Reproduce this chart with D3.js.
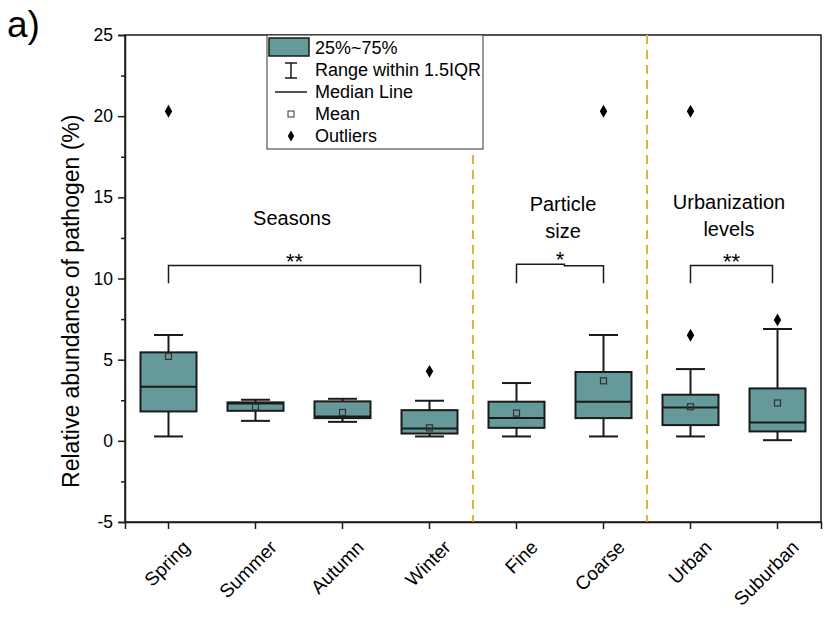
<!DOCTYPE html>
<html>
<head>
<meta charset="utf-8">
<script src="https://d3js.org/d3.v7.min.js"></script>
<style>
  body { margin: 0; background: #fff; }
  text { font-family: Arial, "Liberation Sans", sans-serif; fill: #000; }
</style>
</head>
<body>
<div id="chart"></div>
<script>
// categories and box statistics (percent)
var categories = ["Spring", "Summer", "Autumn", "Winter", "Fine", "Coarse", "Urban", "Suburban"];
var whiskerLow = [0.27, 1.23, 1.17, 0.27, 0.27, 0.27, 0.27, 0.04];
var q1         = [1.81, 1.85, 1.40, 0.45, 0.80, 1.40, 0.97, 0.58];
var medians    = [3.33, 2.30, 1.50, 0.76, 1.40, 2.41, 2.06, 1.13];
var q3         = [5.45, 2.37, 2.43, 1.89, 2.41, 4.24, 2.84, 3.23];
var whiskerHigh= [6.52, 2.53, 2.59, 2.47, 3.56, 6.52, 4.42, 6.89];
var means      = [5.20, 2.08, 1.75, 0.80, 1.71, 3.70, 2.10, 2.33];
var outliers   = [[20.3], [], [], [4.28], [], [20.3], [6.50, 20.3], [7.45]];

var yTicks = [-5, 0, 5, 10, 15, 20, 25];
var yMinorTicks = [-2.5, 2.5, 7.5, 12.5, 17.5, 22.5];

// group separators (between category indices) and brackets
var separators = [[3, 4], [5, 6]];
var brackets = [
  { from: "Spring", to: "Winter", y: 10.8, y2: 10.8, legY: 9.7, label: "**", toShift: -9 },
  { from: "Fine", to: "Coarse", y: 10.88, y2: 10.78, legY: 9.7, label: "*", toShift: 0 },
  { from: "Urban", to: "Suburban", y: 10.8, y2: 10.8, legY: 9.7, label: "**", toShift: -5 }
];
var groupLabels = [
  { between: ["Spring", "Winter"], lines: ["Seasons"], y: 13.3, shift: -7 },
  { between: ["Fine", "Coarse"], lines: ["Particle", "size"], y: 14.15, shift: 3 },
  { between: ["Urban", "Suburban"], lines: ["Urbanization", "levels"], y: 14.3, shift: -5 }
];
var legendItems = ["25%~75%", "Range within 1.5IQR", "Median Line", "Mean", "Outliers"];

var W = 824, H = 617;
var margin = { left: 125, right: 3, top: 35, bottom: 95 };
var teal = "#669999", ink = "#1a1a1a", orange = "#E8AE3A";

var svg = d3.select("#chart").append("svg").attr("width", W).attr("height", H);

var x = d3.scaleBand().domain(categories).range([margin.left, W - margin.right]);
var y = d3.scaleLinear().domain([-5, 25]).range([H - margin.bottom, margin.top]);
var cx = function (c) { return x(c) + x.bandwidth() / 2; };

// frame
svg.append("rect")
  .attr("x", margin.left).attr("y", margin.top)
  .attr("width", W - margin.right - margin.left)
  .attr("height", y(-5) - margin.top)
  .attr("fill", "none").attr("stroke", ink).attr("stroke-width", 1.5);

// dashed separators
separators.forEach(function (s) {
  var sx = (cx(categories[s[0]]) + cx(categories[s[1]])) / 2;
  svg.append("line")
    .attr("x1", sx).attr("x2", sx).attr("y1", y(25)).attr("y2", y(-5))
    .attr("stroke", orange).attr("stroke-width", 2)
    .attr("stroke-dasharray", "9,6");
});

// axes
var yAxis = svg.append("g").attr("transform", "translate(" + margin.left + ",0)")
  .call(d3.axisLeft(y).tickValues(yTicks).tickSize(7).tickPadding(5)
    .tickFormat(function (d) { return String(d); }));
svg.append("g").attr("transform", "translate(" + margin.left + ",0)")
  .call(d3.axisLeft(y).tickValues(yMinorTicks).tickSize(4).tickFormat(""))
  .call(function (g) { g.select(".domain").remove(); });
yAxis.selectAll("text").style("font-size", "17.5px").style("font-family", "Arial, 'Liberation Sans', sans-serif");

var xAxis = svg.append("g").attr("transform", "translate(0," + y(-5) + ")")
  .call(d3.axisBottom(x).tickSize(7).tickPadding(6));
xAxis.selectAll("text")
  .style("font-size", "19px").style("font-family", "Arial, 'Liberation Sans', sans-serif")
  .attr("text-anchor", "end")
  .attr("transform", "translate(4,8) rotate(-45)")
  .attr("dy", "0.7em");
svg.selectAll(".domain, .tick line").attr("stroke", ink).attr("stroke-width", 1.5);

// boxes
var bw = 56, cap = 29;
categories.forEach(function (c, i) {
  var g = svg.append("g");
  var X = cx(c);
  g.append("line").attr("x1", X).attr("x2", X).attr("y1", y(whiskerHigh[i])).attr("y2", y(q3[i]))
    .attr("stroke", ink).attr("stroke-width", 2);
  g.append("line").attr("x1", X).attr("x2", X).attr("y1", y(q1[i])).attr("y2", y(whiskerLow[i]))
    .attr("stroke", ink).attr("stroke-width", 2);
  [whiskerHigh[i], whiskerLow[i]].forEach(function (v) {
    g.append("line").attr("x1", X - cap / 2).attr("x2", X + cap / 2).attr("y1", y(v)).attr("y2", y(v))
      .attr("stroke", ink).attr("stroke-width", 2);
  });
  g.append("rect").attr("x", X - bw / 2).attr("y", y(q3[i]))
    .attr("width", bw).attr("height", y(q1[i]) - y(q3[i]))
    .attr("fill", teal).attr("stroke", ink).attr("stroke-width", 2);
  g.append("line").attr("x1", X - bw / 2).attr("x2", X + bw / 2).attr("y1", y(medians[i])).attr("y2", y(medians[i]))
    .attr("stroke", ink).attr("stroke-width", 2);
  g.append("rect").attr("x", X - 3).attr("y", y(means[i]) - 3).attr("width", 6).attr("height", 6)
    .attr("fill", "none").attr("stroke", "#333").attr("stroke-width", 1.2);
  outliers[i].forEach(function (v) {
    g.append("path").attr("d", d3.symbol(d3.symbolDiamond, 48)())
      .attr("transform", "translate(" + X + "," + y(v) + ")").attr("fill", "#000");
  });
});

// significance brackets
brackets.forEach(function (b) {
  var x1 = cx(b.from), x2 = cx(b.to) + b.toShift, xm = x1 + (x2 - x1) * 0.55;
  svg.append("path")
    .attr("d", "M" + x1 + "," + y(b.legY) + "V" + y(b.y) + "H" + xm + "V" + y(b.y2) + "H" + x2 + "V" + y(b.legY))
    .attr("fill", "none").attr("stroke", ink).attr("stroke-width", 1.5);
  svg.append("text").attr("x", (x1 + x2) / 2).attr("y", y(b.y) + 3)
    .attr("text-anchor", "middle").style("font-size", "22px").text(b.label);
});

// group labels
groupLabels.forEach(function (gl) {
  var gx = (cx(gl.between[0]) + cx(gl.between[1])) / 2 + gl.shift;
  gl.lines.forEach(function (t, k) {
    svg.append("text").attr("x", gx).attr("y", y(gl.y) + k * 27)
      .attr("text-anchor", "middle").style("font-size", "20px").text(t);
  });
});

// axis title and panel letter
svg.append("text")
  .attr("transform", "translate(79," + y(8.6) + ") rotate(-90)")
  .attr("text-anchor", "middle").style("font-size", "23px")
  .text("Relative abundance of pathogen (%)");
svg.append("text").attr("x", 7).attr("y", 37).style("font-size", "37px").text("a)");

// legend
var lg = svg.append("g").attr("transform", "translate(267,35)");
lg.append("rect").attr("width", 216).attr("height", 114)
  .attr("fill", "#fff").attr("stroke", "#333").attr("stroke-width", 1);
var rowY = function (k) { return 13 + k * 22; };
lg.append("rect").attr("x", 2).attr("y", 3).attr("width", 40).attr("height", 18)
  .attr("fill", teal).attr("stroke", ink).attr("stroke-width", 1.5);
lg.append("path").attr("d", "M18," + (rowY(1) - 7) + "H30M24," + (rowY(1) - 7) + "V" + (rowY(1) + 8) + "M18," + (rowY(1) + 8) + "H30")
  .attr("stroke", ink).attr("stroke-width", 1.5).attr("fill", "none");
lg.append("line").attr("x1", 8).attr("x2", 40).attr("y1", rowY(2)).attr("y2", rowY(2))
  .attr("stroke", ink).attr("stroke-width", 1.5);
lg.append("rect").attr("x", 21).attr("y", rowY(3) - 3).attr("width", 6).attr("height", 6)
  .attr("fill", "none").attr("stroke", "#333").attr("stroke-width", 1);
lg.append("path").attr("d", d3.symbol(d3.symbolDiamond, 36)())
  .attr("transform", "translate(24," + rowY(4) + ")").attr("fill", "#000");
legendItems.forEach(function (t, k) {
  lg.append("text").attr("x", 48).attr("y", rowY(k) + 6).style("font-size", "18px").text(t);
});
</script>
</body>
</html>
